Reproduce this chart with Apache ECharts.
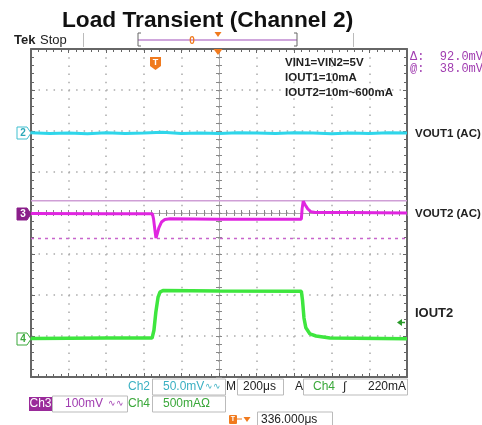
<!DOCTYPE html>
<html>
<head>
    <meta charset="UTF-8">
    <title>Load Transient (Channel 2)</title>
    <script src="https://cdn.jsdelivr.net/npm/echarts/dist/echarts.min.js"></script>
    <style>
        body, html {
            margin: 0;
            padding: 0;
            background: #fff;
        }
        #scope {
            width: 482px;
            height: 425px;
        }
    </style>
</head>
<body>
<div id="scope"></div>
<script>
    // time in divisions (-5..5), amplitude in divisions (-4..4)
    var ch2T = [-5, -4.5, -4, -3.5, -3, -2.5, -2, -1.5, -1, -0.5, 0, 0.5, 1, 1.5, 2, 2.5, 3, 3.5, 4, 4.5, 5];
    var ch2V = [1.96, 1.94, 1.95, 1.93, 1.96, 1.94, 1.95, 1.97, 1.94, 1.95, 1.94, 1.96, 1.95, 1.94, 1.96, 1.95, 1.93, 1.95, 1.94, 1.96, 1.95];

    var ch3T = [-5, -3, -1.77, -1.74, -1.70, -1.676, -1.64, -1.60, -1.53, -1.44, -1.30, 0, 2.19, 2.21, 2.24, 2.29, 2.36, 2.45, 2.56, 3.5, 5];
    var ch3V = [-0.01, -0.02, -0.02, -0.15, -0.45, -0.61, -0.50, -0.36, -0.22, -0.16, -0.14, -0.15, -0.15, 0.10, 0.29, 0.20, 0.10, 0.03, 0.01, 0.01, 0.0];

    var ch4T = [-5, -3, -1.78, -1.73, -1.68, -1.62, -1.57, -1.49, 0, 2.19, 2.22, 2.26, 2.31, 2.42, 2.58, 2.95, 5];
    var ch4V = [-3.06, -3.05, -3.05, -2.86, -2.42, -2.05, -1.93, -1.89, -1.90, -1.91, -2.12, -2.56, -2.80, -2.95, -3.00, -3.05, -3.07];

    var cursorA = 0.30;   // solid cursor
    var cursorB = -0.62;  // dashed cursor

    function pairs(t, v) {
        return t.map(function (x, i) { return [x, v[i]]; });
    }

    var FONT = 'Liberation Sans, Arial, sans-serif';
    var BORDER = '#666';
    var CYAN = '#2fd6ea';
    var MAGENTA = '#e025e0';
    var GREEN = '#3ee63e';
    var ORANGE = '#f07a1e';
    var PURPLE_TXT = '#a03cb0';

    function borderX(pos) {
        return {
            type: 'value', min: -5, max: 5, interval: 1, position: pos,
            axisLine: {onZero: false, lineStyle: {color: BORDER, width: 2}},
            axisTick: {inside: true, length: 4, lineStyle: {color: BORDER}},
            minorTick: {show: true, splitNumber: 5, length: 3, lineStyle: {color: BORDER}},
            axisLabel: {show: false},
            splitLine: {show: pos === 'bottom', lineStyle: {color: '#aaa', width: 1.5, type: [1.5, 6.7]}}
        };
    }
    function borderY(pos) {
        return {
            type: 'value', min: -4, max: 4, interval: 1, position: pos,
            axisLine: {onZero: false, lineStyle: {color: BORDER, width: 2}},
            axisTick: {inside: true, length: 4, lineStyle: {color: BORDER}},
            minorTick: {show: true, splitNumber: 5, length: 3, lineStyle: {color: BORDER}},
            axisLabel: {show: false},
            splitLine: {show: pos === 'left', lineStyle: {color: '#aaa', width: 1.5, type: [1.5, 6.02]}}
        };
    }
    function centerX(inside) {
        return {
            type: 'value', min: -5, max: 5, interval: 1, position: 'bottom',
            axisLine: {onZero: true, onZeroAxisIndex: 0, lineStyle: {color: '#aaa', width: 1}},
            axisTick: {inside: inside, length: 3, lineStyle: {color: '#888'}},
            minorTick: {show: true, splitNumber: 5, length: 3, lineStyle: {color: '#888'}},
            axisLabel: {show: false},
            splitLine: {show: false}
        };
    }
    function centerY(inside) {
        return {
            type: 'value', min: -4, max: 4, interval: 1, position: 'left',
            axisLine: {onZero: true, onZeroAxisIndex: 0, lineStyle: {color: '#aaa', width: 1}},
            axisTick: {inside: inside, length: 3, lineStyle: {color: '#888'}},
            minorTick: {show: true, splitNumber: 5, length: 3, lineStyle: {color: '#888'}},
            axisLabel: {show: false},
            splitLine: {show: false}
        };
    }

    function txt(x, y, s, font, fill, align) {
        return {
            type: 'text', x: x, y: y, z: 100,
            style: {text: s, font: font, fill: fill, textAlign: align || 'left', textVerticalAlign: 'middle'}
        };
    }
    function box(x1, x2, yc) {
        return {
            type: 'rect', z: 90, shape: {x: x1, y: yc - 8, width: x2 - x1, height: 16},
            style: {fill: '#fff', stroke: '#bbb', lineWidth: 1}
        };
    }
    function marker(yc, label, stroke, fill, color) {
        return [{
            type: 'polygon', z: 100,
            shape: {points: [[17, yc - 6], [27, yc - 6], [31, yc], [27, yc + 6], [17, yc + 6]]},
            style: {fill: fill, stroke: stroke, lineWidth: 1}
        }, txt(23, yc, label, 'bold 10px ' + FONT, color, 'center')];
    }
    function line(x1, y1, x2, y2, color, w) {
        return {
            type: 'line', z: 100, shape: {x1: x1, y1: y1, x2: x2, y2: y2},
            style: {stroke: color, lineWidth: w || 1}
        };
    }
    function tri(x, y, w, h) {
        return {
            type: 'polygon', z: 100,
            shape: {points: [[x - w / 2, y - h], [x + w / 2, y - h], [x, y]]},
            style: {fill: ORANGE}
        };
    }

    var graphics = [
        txt(14, 40, 'Tek', 'bold 13px ' + FONT, '#222'),
        txt(40, 40, 'Stop', '13px ' + FONT, '#222'),
        line(83.5, 33, 83.5, 47, '#bbb', 1),
        line(353.5, 33, 353.5, 47, '#bbb', 1),
        line(138, 40, 297, 40, '#cfa6dc', 2),
        line(138, 33, 138, 46, '#666', 1),
        line(138, 33, 141, 33, '#666', 1),
        line(138, 46, 141, 46, '#666', 1),
        line(297, 33, 297, 46, '#666', 1),
        line(294, 33, 297, 33, '#666', 1),
        line(294, 46, 297, 46, '#666', 1),
        txt(192, 41, '0', 'bold 10px ' + FONT, ORANGE, 'center'),
        tri(218, 37, 7, 5),
        tri(218, 55, 9, 6),
        {
            type: 'polygon', z: 100,
            shape: {points: [[150, 57], [161, 57], [161, 66], [155.5, 70], [150, 66]]},
            style: {fill: ORANGE}
        },
        txt(155.5, 62.5, 'T', 'bold 9px ' + FONT, '#fff', 'center'),
        txt(285, 63, 'VIN1=VIN2=5V', 'bold 11.5px ' + FONT, '#222'),
        txt(285, 78, 'IOUT1=10mA', 'bold 11.5px ' + FONT, '#222'),
        txt(285, 93, 'IOUT2=10m~600mA', 'bold 11.5px ' + FONT, '#222'),
        txt(410, 57, 'Δ:', '12px Liberation Mono, monospace', PURPLE_TXT),
        txt(483, 57, '92.0mV', '12px Liberation Mono, monospace', PURPLE_TXT, 'right'),
        txt(410, 69, '@:', '12px Liberation Mono, monospace', PURPLE_TXT),
        txt(483, 69, '38.0mV', '12px Liberation Mono, monospace', PURPLE_TXT, 'right'),
        txt(415, 134, 'VOUT1 (AC)', 'bold 11.5px ' + FONT, '#222'),
        txt(415, 214, 'VOUT2 (AC)', 'bold 11.5px ' + FONT, '#222'),
        txt(415, 313, 'IOUT2', 'bold 13px ' + FONT, '#222'),
        {
            type: 'polygon', z: 100,
            shape: {points: [[397, 322.5], [402, 319], [402, 326]]},
            style: {fill: '#2a9a2a'}
        },
        line(401, 322.5, 405, 322.5, '#2a9a2a', 1.5),
        // readout row 1
        txt(128, 387, 'Ch2', '12px ' + FONT, '#3ab0c2'),
        box(152.5, 225.5, 387),
        txt(163, 387, '50.0mV', '12px ' + FONT, '#3ab0c2'),
        txt(205, 387, '∿∿', '9px ' + FONT, '#3ab0c2'),
        txt(226, 387, 'M', '12px ' + FONT, '#222'),
        box(237.5, 283.5, 387),
        txt(243, 387, '200μs', '12px ' + FONT, '#222'),
        txt(295, 387, 'A', '12px ' + FONT, '#222'),
        box(303.5, 407.5, 387),
        txt(313, 387, 'Ch4', '12px ' + FONT, '#3aa83a'),
        txt(343, 387, '∫', 'italic 12px ' + FONT, '#222'),
        txt(406, 387, '220mA', '12px ' + FONT, '#222', 'right'),
        // readout row 2
        {type: 'rect', z: 95, shape: {x: 29, y: 397, width: 23, height: 14}, style: {fill: '#9a2a9a'}},
        txt(40.5, 404, 'Ch3', '12px ' + FONT, '#fff', 'center'),
        box(52.5, 127.5, 404),
        txt(65, 404, '100mV', '12px ' + FONT, PURPLE_TXT),
        txt(108, 404, '∿∿', '9px ' + FONT, PURPLE_TXT),
        txt(128, 404, 'Ch4', '12px ' + FONT, '#3aa83a'),
        box(152.5, 225.5, 404),
        txt(163, 404, '500mAΩ', '12px ' + FONT, '#3aa83a'),
        // readout row 3
        {type: 'rect', z: 100, shape: {x: 229, y: 415, width: 8, height: 9, r: 1}, style: {fill: ORANGE}},
        txt(233, 419.5, 'T', 'bold 7px ' + FONT, '#fff', 'center'),
        line(237, 419, 242, 419, ORANGE, 1),
        tri(247, 422, 7, 5),
        box(257.5, 332.5, 420),
        txt(261, 420, '336.000μs', '12px ' + FONT, '#222')
    ];
    graphics = graphics.concat(marker(133, '2', '#40c0d0', '#fff', '#2aa8b8'));
    graphics = graphics.concat(marker(214, '3', '#8a1f8a', '#8a1f8a', '#fff'));
    graphics = graphics.concat(marker(339, '4', '#3aa83a', '#fff', '#3aa83a'));

    var chart = echarts.init(document.getElementById('scope'), null, {renderer: 'canvas'});
    chart.setOption({
        animation: false,
        backgroundColor: '#fff',
        title: {
            text: 'Load Transient (Channel 2)',
            left: 57, top: 4,
            textStyle: {fontFamily: FONT, fontSize: 22.7, fontWeight: 'bold', color: '#111'}
        },
        grid: {left: 31, top: 49, width: 376, height: 328},
        xAxis: [borderX('bottom'), borderX('top'), centerX(true), centerX(false)],
        yAxis: [borderY('left'), borderY('right'), centerY(true), centerY(false)],
        series: [
            {
                name: 'cursorA', type: 'line', symbol: 'none', silent: true,
                data: [[-5, cursorA], [5, cursorA]],
                lineStyle: {color: '#cf9fd6', width: 1.5}
            },
            {
                name: 'cursorB', type: 'line', symbol: 'none', silent: true,
                data: [[-5, cursorB], [5, cursorB]],
                lineStyle: {color: '#c865cc', width: 1.5, type: [3, 4]}
            },
            {
                name: 'VOUT1', type: 'line', symbol: 'none', data: pairs(ch2T, ch2V),
                lineStyle: {color: CYAN, width: 3}
            },
            {
                name: 'VOUT2', type: 'line', symbol: 'none', data: pairs(ch3T, ch3V),
                lineStyle: {color: MAGENTA, width: 3}
            },
            {
                name: 'IOUT2', type: 'line', symbol: 'none', data: pairs(ch4T, ch4V),
                lineStyle: {color: GREEN, width: 3.5}
            }
        ],
        graphic: graphics
    });
</script>
</body>
</html>
